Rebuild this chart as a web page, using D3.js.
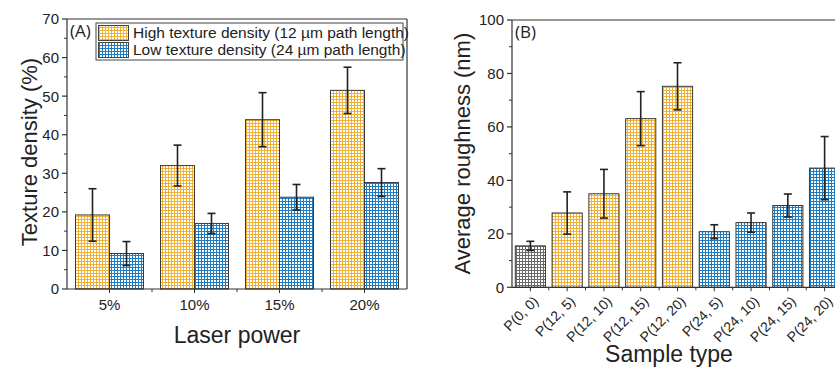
<!DOCTYPE html>
<html>
<head>
<meta charset="utf-8">
<script src="https://cdn.jsdelivr.net/npm/d3@7/dist/d3.min.js"></script>
<style>
  html, body { margin: 0; padding: 0; background: #fff; }
  svg { display: block; }
  text { font-family: "Liberation Sans", Arial, sans-serif; fill: #222; }
</style>
</head>
<body>
<svg id="chart" width="835" height="369"></svg>
<script>
// ---------------- DATA ----------------
const powerLabels = ["5%", "10%", "15%", "20%"];
const seriesNames = ["High texture density (12 \u00b5m path length)", "Low texture density (24 \u00b5m path length)"];
const highDensity = [19.2, 32.0, 43.9, 51.5];
const highDensityErr = [6.8, 5.3, 7.0, 6.0];
const lowDensity = [9.2, 17.0, 23.8, 27.6];
const lowDensityErr = [3.1, 2.6, 3.3, 3.6];
const densityTicks = [0, 10, 20, 30, 40, 50, 60, 70];

const sampleLabels = ["P(0, 0)", "P(12, 5)", "P(12, 10)", "P(12, 15)", "P(12, 20)", "P(24, 5)", "P(24, 10)", "P(24, 15)", "P(24, 20)"];
const sampleGroup = ["none", "high", "high", "high", "high", "low", "low", "low", "low"];
const roughness = [15.5, 27.8, 35.0, 63.1, 75.2, 20.8, 24.2, 30.6, 44.6];
const roughnessErr = [1.7, 7.9, 9.1, 10.1, 8.8, 2.6, 3.6, 4.3, 11.8];
const roughnessTicks = [0, 20, 40, 60, 80, 100];

// ---------------- SETUP ----------------
const svg = d3.select("#chart");
const defs = svg.append("defs");
const patternColors = { high: "#eeb035", low: "#1f7cc0", none: "#6a6a6a" };
Object.entries(patternColors).forEach(([k, c]) => {
  const p = defs.append("pattern").attr("id", "pat-" + k)
    .attr("patternUnits", "userSpaceOnUse").attr("width", 3).attr("height", 3);
  p.append("rect").attr("width", 3).attr("height", 3).attr("fill", "#fff");
  p.append("rect").attr("x", 0).attr("y", 0).attr("width", 3).attr("height", 1).attr("fill", c);
  p.append("rect").attr("x", 0).attr("y", 0).attr("width", 1).attr("height", 3).attr("fill", c);
});
const axisColor = "#333";

function drawYAxis(g, y, x0, ticks, minorStep, domainMax) {
  const minors = d3.range(0, domainMax + 0.001, minorStep).filter(v => !ticks.includes(v));
  g.append("line").attr("x1", x0).attr("x2", x0).attr("y1", y(0)).attr("y2", y(domainMax))
    .attr("stroke", axisColor).attr("stroke-width", 1.2);
  g.selectAll(".maj").data(ticks).enter().append("line")
    .attr("x1", x0 - 5).attr("x2", x0).attr("y1", d => y(d)).attr("y2", d => y(d))
    .attr("stroke", axisColor).attr("stroke-width", 1.2);
  g.selectAll(".min").data(minors).enter().append("line")
    .attr("x1", x0 - 3).attr("x2", x0).attr("y1", d => y(d)).attr("y2", d => y(d))
    .attr("stroke", axisColor).attr("stroke-width", 1);
  g.selectAll(".lab").data(ticks).enter().append("text")
    .attr("x", x0 - 8).attr("y", d => y(d)).attr("dy", "0.36em")
    .attr("text-anchor", "end").attr("font-size", 15).text(d => d);
}

function errorBars(g, xc, yTop, yBot, cap) {
  g.append("line").attr("x1", xc).attr("x2", xc).attr("y1", yTop).attr("y2", yBot)
    .attr("stroke", "#222").attr("stroke-width", 1.6);
  [yTop, yBot].forEach(yy => g.append("line").attr("x1", xc - cap).attr("x2", xc + cap)
    .attr("y1", yy).attr("y2", yy).attr("stroke", "#222").attr("stroke-width", 1.6));
}

// ---------------- PANEL A ----------------
const gA = svg.append("g");
const AL = 67, AR = 407, AT = 19, AB = 289;
const yA = d3.scaleLinear().domain([0, 70]).range([AB, AT]);
const xA = d3.scaleBand().domain(powerLabels).range([AL, AR]).paddingInner(0.2).paddingOuter(0.1);
const xAs = d3.scaleBand().domain([0, 1]).range([0, xA.bandwidth()]);
const seriesVals = [highDensity, lowDensity];
const seriesErr = [highDensityErr, lowDensityErr];
const seriesKey = ["high", "low"];

seriesVals.forEach((vals, si) => {
  vals.forEach((v, i) => {
    const x = xA(powerLabels[i]) + xAs(si);
    gA.append("rect").attr("x", x).attr("y", yA(v)).attr("width", xAs.bandwidth())
      .attr("height", yA(0) - yA(v)).attr("fill", "url(#pat-" + seriesKey[si] + ")")
      .attr("stroke", "#3a3a3a").attr("stroke-width", 1);
  });
});
seriesVals.forEach((vals, si) => {
  vals.forEach((v, i) => {
    const xc = xA(powerLabels[i]) + xAs(si) + xAs.bandwidth() / 2;
    errorBars(gA, xc, yA(v + seriesErr[si][i]), yA(v - seriesErr[si][i]), 4);
  });
});
// frame
gA.append("line").attr("x1", AL).attr("x2", AR).attr("y1", AT).attr("y2", AT).attr("stroke", axisColor).attr("stroke-width", 1.2);
gA.append("line").attr("x1", AR).attr("x2", AR).attr("y1", AT).attr("y2", AB).attr("stroke", axisColor).attr("stroke-width", 1.2);
gA.append("line").attr("x1", AL).attr("x2", AR).attr("y1", AB).attr("y2", AB).attr("stroke", axisColor).attr("stroke-width", 1.2);
drawYAxis(gA, yA, AL, densityTicks, 5, 70);
// x ticks
powerLabels.forEach((c, i) => {
  const xc = xA(c) + xA.bandwidth() / 2;
  gA.append("line").attr("x1", xc).attr("x2", xc).attr("y1", AB).attr("y2", AB + 4).attr("stroke", axisColor);
  if (i > 0) {
    const xb = xA(c) - xA.step() * xA.paddingInner() / 2;
    gA.append("line").attr("x1", xb).attr("x2", xb).attr("y1", AB).attr("y2", AB + 3).attr("stroke", axisColor);
  }
  gA.append("text").attr("x", xc).attr("y", 310).attr("text-anchor", "middle").attr("font-size", 15).text(c);
});
gA.append("text").attr("x", (AL + AR) / 2).attr("y", 343).attr("text-anchor", "middle").attr("font-size", 23).text("Laser power");
gA.append("text").attr("transform", "translate(37," + ((AT + AB) / 2 - 2) + ") rotate(-90)")
  .attr("text-anchor", "middle").attr("font-size", 22).text("Texture density (%)");
gA.append("text").attr("x", 70).attr("y", 37).attr("font-size", 17)
  .style("font-family", "'Open Sans', sans-serif").text("(A)");
// legend
const leg = gA.append("g");
leg.append("rect").attr("x", 96).attr("y", 23).attr("width", 307).attr("height", 37)
  .attr("fill", "#fff").attr("stroke", "#444").attr("stroke-width", 1);
seriesNames.forEach((n, si) => {
  const yy = 25 + si * 17;
  leg.append("rect").attr("x", 98.5).attr("y", yy + 0.5).attr("width", 30).attr("height", 15)
    .attr("fill", "url(#pat-" + seriesKey[si] + ")").attr("stroke", "#444").attr("stroke-width", 1);
  leg.append("text").attr("x", 133).attr("y", yy + 13).attr("font-size", 15.5).text(n);
});

// ---------------- PANEL B ----------------
const gB = svg.append("g");
const BL = 512, BR = 843, BT = 20, BB = 287.3;
const yB = d3.scaleLinear().domain([0, 100]).range([BB, BT]);
const xB = d3.scaleBand().domain(sampleLabels).range([BL, BR]).paddingInner(0.18).paddingOuter(0.09);
roughness.forEach((v, i) => {
  gB.append("rect").attr("x", xB(sampleLabels[i])).attr("y", yB(v)).attr("width", xB.bandwidth())
    .attr("height", yB(0) - yB(v)).attr("fill", "url(#pat-" + sampleGroup[i] + ")")
    .attr("stroke", "#3a3a3a").attr("stroke-width", 1);
});
roughness.forEach((v, i) => {
  const xc = xB(sampleLabels[i]) + xB.bandwidth() / 2;
  errorBars(gB, xc, yB(v + roughnessErr[i]), yB(v - roughnessErr[i]), 4);
});
gB.append("line").attr("x1", BL).attr("x2", BR).attr("y1", BT).attr("y2", BT).attr("stroke", axisColor).attr("stroke-width", 1.2);
gB.append("line").attr("x1", BL).attr("x2", BR).attr("y1", BB).attr("y2", BB).attr("stroke", axisColor).attr("stroke-width", 1.2);
drawYAxis(gB, yB, BL, roughnessTicks, 10, 100);
sampleLabels.forEach((c, i) => {
  const xc = xB(c) + xB.bandwidth() / 2;
  gB.append("line").attr("x1", xc).attr("x2", xc).attr("y1", BB).attr("y2", BB + 4).attr("stroke", axisColor);
  if (i > 0) {
    const xb = xB(c) - xB.step() * xB.paddingInner() / 2;
    gB.append("line").attr("x1", xb).attr("x2", xb).attr("y1", BB).attr("y2", BB + 3).attr("stroke", axisColor);
  }
  gB.append("text").attr("transform", "translate(" + (xc + 2) + "," + (BB + 8) + ") rotate(-45)")
    .attr("text-anchor", "end").attr("dy", "0.7em").attr("font-size", 14).text(c);
});
gB.append("text").attr("x", 669).attr("y", 362).attr("text-anchor", "middle").attr("font-size", 23).text("Sample type");
gB.append("text").attr("transform", "translate(470," + ((BT + BB) / 2) + ") rotate(-90)")
  .attr("text-anchor", "middle").attr("font-size", 22).text("Average roughness (nm)");
gB.append("text").attr("x", 515).attr("y", 38).attr("font-size", 17)
  .style("font-family", "'Open Sans', sans-serif").text("(B)");
</script>
</body>
</html>
